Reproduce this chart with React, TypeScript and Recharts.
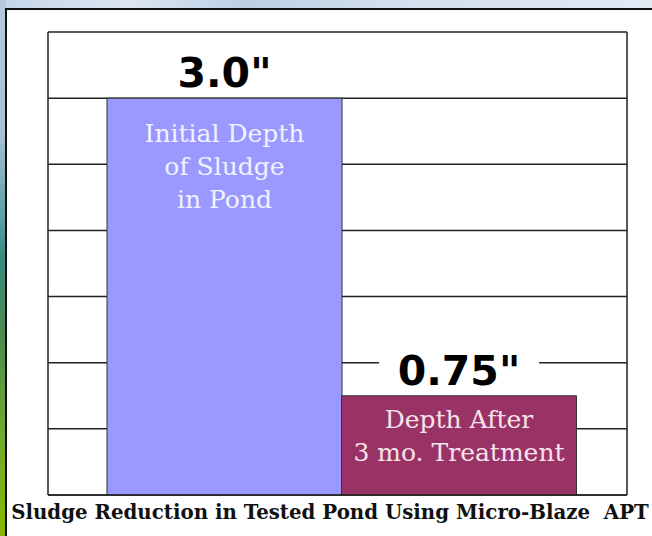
import React from 'react';
import { BarChart, Bar, XAxis, YAxis, CartesianGrid, Cell, LabelList } from 'recharts';

// chart data
const categories = ['Initial', 'After'];
const depths = [3.0, 0.75];
const valueLabels = ['3.0"', '0.75"'];
const barTexts = [
  ['Initial Depth', 'of Sludge', 'in Pond'],
  ['Depth After', '3 mo. Treatment'],
];
const yTicks = [0, 0.5, 1, 1.5, 2, 2.5, 3, 3.5];
const title = 'Sludge Reduction in Tested Pond Using Micro-Blaze  APT';

const BAR_COLORS = ['#9999ff', '#993366'];
const TEXT_COLORS = ['#f2f2ff', '#f8e2ea'];

const data = categories.map((name, i) => ({
  name,
  depth: depths[i],
  label: valueLabels[i],
}));

const ValueLabel = (props: any) => {
  const { x, y, width, index } = props;
  const cx = x + width / 2;
  const text = valueLabels[index];
  const boxW = text.length * 26 + 30;
  return (
    <g>
      <rect x={cx - boxW / 2} y={y - 44} width={boxW} height={40} fill="#ffffff" />
      <text
        x={cx}
        y={y - 11}
        textAnchor="middle"
        fontFamily="'DejaVu Sans', sans-serif"
        fontWeight="bold"
        fontSize={41}
        fill="#000"
      >
        {text}
      </text>
    </g>
  );
};

const InnerText = (props: any) => {
  const { x, y, width, index } = props;
  const cx = x + width / 2;
  const lines = barTexts[index];
  const first = index === 0 ? 44 : 32;
  return (
    <g>
      {lines.map((line, i) => (
        <text
          key={i}
          x={cx}
          y={y + first + i * 33}
          textAnchor="middle"
          fontFamily="'DejaVu Serif', serif"
          fontSize={25}
          fill={TEXT_COLORS[index]}
        >
          {line}
        </text>
      ))}
    </g>
  );
};

const axisLine = { stroke: '#222', strokeWidth: 1.5 };
// no tick labels, but keep the ticks so the grid has its lines
const NoTick = () => <g />;

export default function App() {
  return (
    <div
      style={{
        position: 'absolute',
        left: 0,
        top: 0,
        width: 652,
        height: 536,
        overflow: 'hidden',
        background: 'linear-gradient(90deg, #c4d4e8 0%, #dde6f2 20%, #bccfe4 38%, #d2dfec 60%, #e2eaf4 100%)',
      }}
    >
      <div
        style={{
          position: 'absolute',
          left: 0,
          top: 0,
          width: 6,
          height: 536,
          background:
            'linear-gradient(180deg, #b8c8e0 0%, #a8c0d2 25%, #5fa0a8 40%, #3a8a80 48%, #4a8a50 62%, #70a830 80%, #88b800 100%)',
        }}
      />
      <div
        style={{
          position: 'absolute',
          left: 5,
          top: 8,
          width: 652,
          height: 536,
          background: '#fff',
          borderLeft: '2px solid #111',
          borderTop: '2px solid #111',
        }}
      />
      <div style={{ position: 'absolute', left: 0, top: 0 }}>
        <BarChart
          width={652}
          height={536}
          data={data}
          margin={{ top: 32, right: 24, bottom: 40, left: 47 }}
          barCategoryGap={0}
        >
          <CartesianGrid vertical={false} stroke="#222" strokeWidth={1.5} />
          <XAxis
            dataKey="name"
            height={1}
            tick={false}
            tickLine={false}
            axisLine={axisLine}
            padding={{ left: 59, right: 51 }}
          />
          <YAxis
            width={1}
            domain={[0, 3.5]}
            ticks={yTicks}
            tick={NoTick}
            tickLine={false}
            axisLine={axisLine}
            interval={0}
          />
          <YAxis
            yAxisId="right"
            orientation="right"
            width={1}
            domain={[0, 3.5]}
            ticks={yTicks}
            tick={NoTick}
            tickLine={false}
            axisLine={axisLine}
          />
          <Bar dataKey="depth" isAnimationActive={false} stroke="#333" strokeWidth={1}>
            {data.map((d, i) => (
              <Cell key={d.name} fill={BAR_COLORS[i]} />
            ))}
            <LabelList dataKey="label" content={InnerText} />
            <LabelList dataKey="label" content={ValueLabel} />
          </Bar>
        </BarChart>
      </div>
      <div
        style={{
          position: 'absolute',
          left: 0,
          top: 500,
          width: 660,
          textAlign: 'center',
          whiteSpace: 'pre',
          fontFamily: "'DejaVu Serif', serif",
          fontWeight: 'bold',
          fontSize: 19.8,
          color: '#111',
        }}
      >
        {title}
      </div>
    </div>
  );
}
